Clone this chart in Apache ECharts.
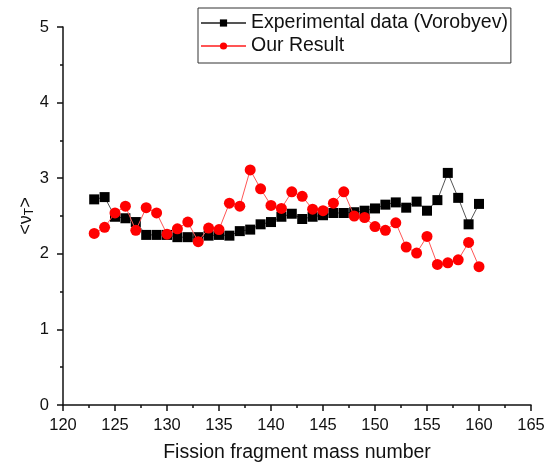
<!DOCTYPE html>
<html><head><meta charset="utf-8">
<script src="https://cdn.jsdelivr.net/npm/echarts@6/dist/echarts.min.js"></script>
<style>html,body{margin:0;padding:0;background:#fff}#c{width:550px;height:463px}</style>
</head><body><div id="c"></div>
<script>
const massNumbers = [123,124,125,126,127,128,129,130,131,132,133,134,135,136,137,138,139,140,141,142,143,144,145,146,147,148,149,150,151,152,153,154,155,156,157,158,159,160];
const experimental = [2.72,2.75,2.49,2.47,2.42,2.25,2.25,2.25,2.22,2.22,2.22,2.24,2.25,2.24,2.30,2.32,2.39,2.42,2.49,2.53,2.46,2.49,2.51,2.54,2.54,2.55,2.57,2.60,2.65,2.68,2.61,2.69,2.57,2.71,3.07,2.74,2.39,2.66];
const ourResult = [2.27,2.35,2.54,2.63,2.31,2.61,2.54,2.26,2.33,2.42,2.16,2.34,2.32,2.67,2.63,3.11,2.86,2.64,2.60,2.82,2.76,2.59,2.57,2.67,2.82,2.50,2.48,2.36,2.31,2.41,2.09,2.01,2.23,1.86,1.88,1.92,2.15,1.83];
const seriesNames = ['Experimental data (Vorobyev)', 'Our Result'];

const font = 'Arial, "Liberation Sans", sans-serif';
const chart = echarts.init(document.getElementById('c'), null, {renderer:'canvas'});
chart.setOption({
  animation:false,
  backgroundColor:'#fff',
  grid:{left:63,right:19,top:27,bottom:58,containLabel:false,outerBoundsMode:'none'},
  legend:{
    left:198, top:8, orient:'vertical',
    borderColor:'#333', borderWidth:1, padding:[5,3,7,2], itemGap:3,
    itemWidth:45, itemHeight:9,
    textStyle:{fontFamily:font,fontSize:19.5,color:'#111'},
    data:seriesNames
  },
  xAxis:{
    type:'value', min:120, max:165, interval:5,
    name:'Fission fragment mass number', nameLocation:'middle', nameGap:38, nameMoveOverlap:false,
    nameTextStyle:{fontFamily:font,fontSize:19.5,color:'#111'},
    axisLine:{lineStyle:{color:'#111',width:1.5}},
    axisTick:{show:true,inside:false,length:6,lineStyle:{color:'#111',width:1.5}},
    minorTick:{show:true,splitNumber:2,length:3,lineStyle:{color:'#111',width:1.5}},
    axisLabel:{fontFamily:font,fontSize:16.5,color:'#111',margin:12},
    splitLine:{show:false}
  },
  yAxis:{
    type:'value', min:0, max:5, interval:1,
    name:'<ν{sub|T}>', nameLocation:'middle', nameGap:27, nameRotate:90, nameMoveOverlap:false,
    nameTextStyle:{fontFamily:font,fontSize:18,color:'#111',
      rich:{sub:{fontFamily:font,fontSize:12,color:'#111',verticalAlign:'bottom',padding:[8,0,0,0]}}},
    axisLine:{show:true,lineStyle:{color:'#111',width:1.5}},
    axisTick:{show:true,inside:false,length:6,lineStyle:{color:'#111',width:1.5}},
    minorTick:{show:true,splitNumber:2,length:3,lineStyle:{color:'#111',width:1.5}},
    axisLabel:{fontFamily:font,fontSize:16.5,color:'#111',margin:14},
    splitLine:{show:false}
  },
  series:[
    {name:seriesNames[0], type:'line', data:massNumbers.map((m,i)=>[m,experimental[i]]),
     symbol:'rect', symbolSize:10, itemStyle:{color:'#000'},
     lineStyle:{color:'#555',width:1}, z:2},
    {name:seriesNames[1], type:'line', data:massNumbers.map((m,i)=>[m,ourResult[i]]),
     symbol:'circle', symbolSize:11, itemStyle:{color:'#ff0000'},
     lineStyle:{color:'#ff5555',width:1}, z:3}
  ]
});
</script></body></html>
